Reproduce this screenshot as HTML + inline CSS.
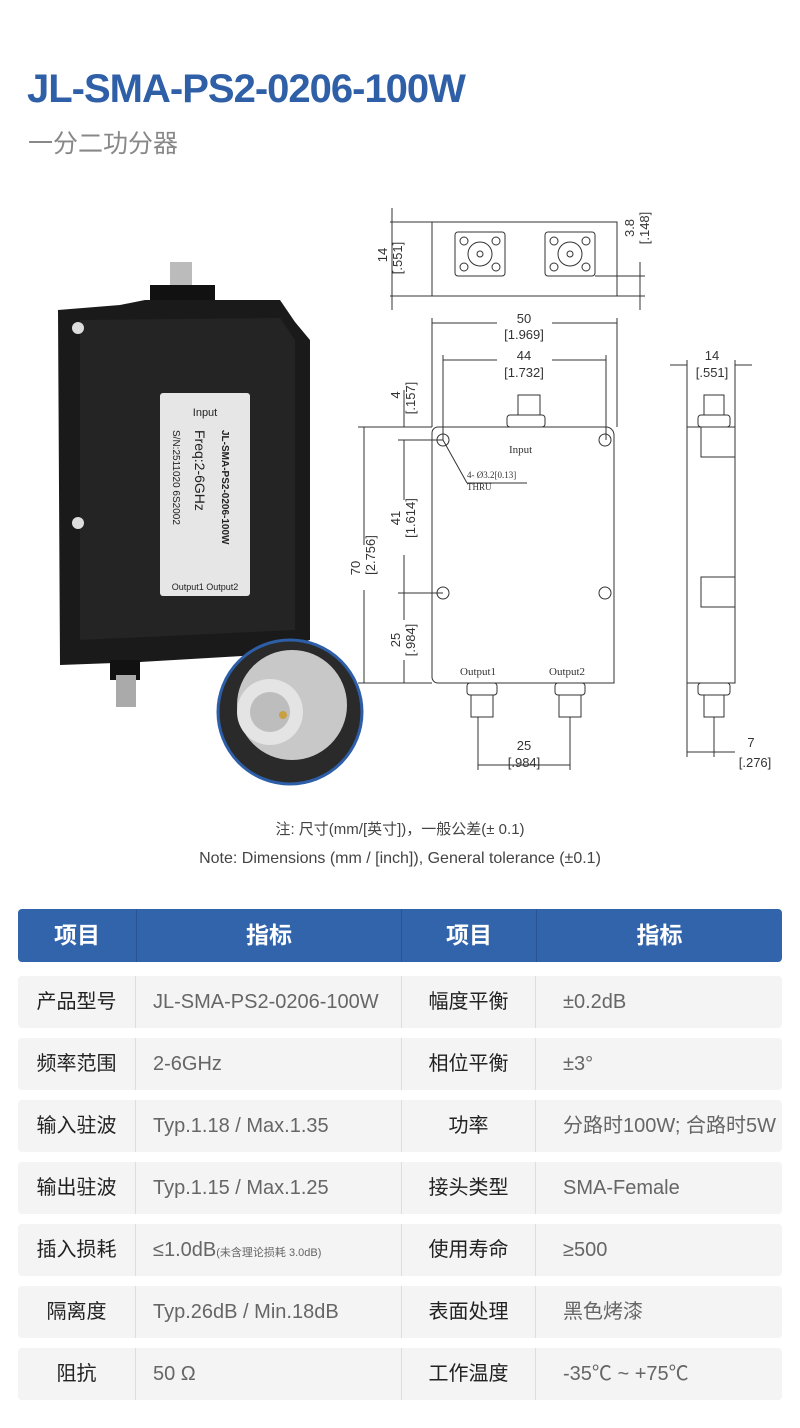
<!DOCTYPE html>
<html><head><meta charset="utf-8"><style>
*{margin:0;padding:0;box-sizing:border-box}
body{width:800px;height:1428px;background:#fff;position:relative;overflow:hidden;font-family:"Liberation Sans","Noto Sans CJK SC",sans-serif}
.abs{position:absolute}
h1{position:absolute;left:27px;top:67px;font-size:40px;font-weight:bold;color:#2f5fa6;letter-spacing:-1px}
.sub{left:28px;top:124px;font-size:25px;color:#888}
.note{width:800px;text-align:center;color:#444;font-size:15px}
.row{position:absolute;left:18px;width:764px;height:52px;background:#f4f4f4;border-radius:4px;font-size:20px;color:#666}
.row div{position:absolute;top:0;height:52px;line-height:52px}
.c1{left:0;width:118px;text-align:center;color:#222;border-right:1px solid #ddd}
.c2{left:135px;width:248px}
.c3{left:383px;width:135px;text-align:center;color:#222;border-left:1px solid #ddd;border-right:1px solid #ddd}
.c4{left:545px}
.hd{position:absolute;left:18px;top:909px;width:764px;height:53px;background:#3264ab;border-radius:4px;color:#fff;font-size:23px;font-weight:bold}
.hd div{position:absolute;top:0;height:53px;line-height:53px;text-align:center}
</style></head><body>
<h1>JL-SMA-PS2-0206-100W</h1>
<div class="abs sub">一分二功分器</div>

<svg class="abs" style="left:0;top:0" width="800" height="800">
<rect x="170" y="262" width="22" height="30" fill="#bbb"/>
<rect x="150" y="285" width="65" height="22" fill="#111"/>
<path d="M58 310 L120 305 L145 300 L280 300 L295 322 L310 340 L310 640 L260 655 L140 662 L60 665 Z" fill="#1a1a1a"/>
<path d="M80 320 L280 318 L295 340 L295 630 L80 640 Z" fill="#242424"/>
<circle cx="78" cy="328" r="6" fill="#ddd"/><circle cx="78" cy="523" r="6" fill="#ddd"/>
<rect x="110" y="660" width="30" height="20" fill="#111"/>
<rect x="116" y="675" width="20" height="32" fill="#aaa"/>
<rect x="160" y="393" width="90" height="203" fill="#e6e6e6" rx="3"/>
<text x="205" y="416" font-size="11" text-anchor="middle" fill="#222">Input</text>
<text font-size="10" fill="#222" transform="translate(222,430) rotate(90)" font-weight="bold">JL-SMA-PS2-0206-100W</text>
<text font-size="14" fill="#222" transform="translate(195,430) rotate(90)">Freq:2-6GHz</text>
<text font-size="10" fill="#222" transform="translate(173,430) rotate(90)">S/N:2511020 6S2002</text>
<text x="205" y="590" font-size="9" text-anchor="middle" fill="#222">Output1 Output2</text>
<circle cx="290" cy="712" r="72" fill="#2a2a2a" stroke="#2d5ea8" stroke-width="3"/>
<circle cx="292" cy="705" r="55" fill="#c8c8c8"/>
<circle cx="270" cy="712" r="33" fill="#e4e4e4"/>
<circle cx="270" cy="712" r="20" fill="#bdbdbd"/>
<circle cx="283" cy="715" r="4" fill="#c9a040"/>

<g stroke="#333" fill="none" stroke-width="1">
<rect x="432" y="222" width="185" height="74"/>
<rect x="455" y="232" width="50" height="44" rx="3"/><circle cx="480" cy="254" r="12"/><circle cx="480" cy="254" r="3"/>
<rect x="545" y="232" width="50" height="44" rx="3"/><circle cx="570" cy="254" r="12"/><circle cx="570" cy="254" r="3"/>
<circle cx="464" cy="241" r="4"/><circle cx="496" cy="241" r="4"/><circle cx="464" cy="267" r="4"/><circle cx="496" cy="267" r="4"/>
<circle cx="554" cy="241" r="4"/><circle cx="586" cy="241" r="4"/><circle cx="554" cy="267" r="4"/><circle cx="586" cy="267" r="4"/>
<line x1="390" y1="222" x2="432" y2="222"/><line x1="390" y1="296" x2="432" y2="296"/><line x1="392" y1="208" x2="392" y2="310"/>
<line x1="617" y1="296" x2="645" y2="296"/><line x1="595" y1="276" x2="645" y2="276"/><line x1="640" y1="262" x2="640" y2="310"/>
<path d="M438 427 H606 a8 8 0 0 1 8 8 V683 H438 a6 6 0 0 1 -6 -6 V433 a6 6 0 0 1 6 -6Z"/>
<circle cx="443" cy="440" r="6"/><circle cx="605" cy="440" r="6"/><circle cx="443" cy="593" r="6"/><circle cx="605" cy="593" r="6"/>
<rect x="518" y="395" width="22" height="20"/><rect x="507" y="415" width="38" height="12" rx="3"/>
<rect x="467" y="683" width="30" height="12" rx="3"/><rect x="471" y="695" width="22" height="22"/>
<rect x="555" y="683" width="30" height="12" rx="3"/><rect x="559" y="695" width="22" height="22"/>
<line x1="432" y1="318" x2="432" y2="427"/><line x1="617" y1="318" x2="617" y2="427"/>
<line x1="432" y1="323" x2="497" y2="323"/><line x1="552" y1="323" x2="617" y2="323"/>
<line x1="443" y1="355" x2="443" y2="440"/><line x1="606" y1="355" x2="606" y2="440"/>
<line x1="443" y1="360" x2="497" y2="360"/><line x1="552" y1="360" x2="606" y2="360"/>
<line x1="358" y1="427" x2="432" y2="427"/><line x1="358" y1="683" x2="432" y2="683"/>
<line x1="364" y1="427" x2="364" y2="545"/><line x1="364" y1="590" x2="364" y2="683"/>
<line x1="398" y1="440" x2="443" y2="440"/><line x1="398" y1="593" x2="443" y2="593"/>
<line x1="404" y1="390" x2="404" y2="427"/><line x1="404" y1="440" x2="404" y2="500"/><line x1="404" y1="555" x2="404" y2="620"/><line x1="404" y1="660" x2="404" y2="683"/>
<line x1="443" y1="440" x2="467" y2="483" /><line x1="467" y1="483" x2="527" y2="483"/>
<line x1="478" y1="717" x2="478" y2="770"/><line x1="570" y1="717" x2="570" y2="770"/><line x1="478" y1="765" x2="570" y2="765"/>
<rect x="687" y="427" width="48" height="256"/>
<rect x="701" y="427" width="34" height="30"/><rect x="701" y="577" width="34" height="30"/>
<rect x="704" y="395" width="20" height="20"/><rect x="698" y="415" width="32" height="12" rx="3"/>
<rect x="698" y="683" width="32" height="12" rx="3"/><rect x="704" y="695" width="20" height="22"/>
<line x1="687" y1="360" x2="687" y2="427"/><line x1="735" y1="360" x2="735" y2="427"/>
<line x1="670" y1="365" x2="687" y2="365"/><line x1="735" y1="365" x2="752" y2="365"/>
<line x1="687" y1="683" x2="687" y2="757"/><line x1="714" y1="717" x2="714" y2="757"/><line x1="687" y1="752" x2="735" y2="752"/>
</g>
<g fill="#333" font-size="13" text-anchor="middle">
<text transform="translate(387,255) rotate(-90)">14</text><text transform="translate(402,258) rotate(-90)">[.551]</text>
<text transform="translate(634,228) rotate(-90)">3.8</text><text transform="translate(649,228) rotate(-90)">[.148]</text>
<text x="524" y="323">50</text><text x="524" y="339">[1.969]</text>
<text x="524" y="360">44</text><text x="524" y="377">[1.732]</text>
<text transform="translate(400,395) rotate(-90)">4</text><text transform="translate(415,398) rotate(-90)">[.157]</text>
<text transform="translate(360,568) rotate(-90)">70</text><text transform="translate(375,555) rotate(-90)">[2.756]</text>
<text transform="translate(400,518) rotate(-90)">41</text><text transform="translate(415,518) rotate(-90)">[1.614]</text>
<text transform="translate(400,640) rotate(-90)">25</text><text transform="translate(415,640) rotate(-90)">[.984]</text>
<text x="524" y="750">25</text><text x="524" y="767">[.984]</text>
<text x="712" y="360">14</text><text x="712" y="377">[.551]</text>
<text x="751" y="747">7</text><text x="755" y="767">[.276]</text>
</g>
<g fill="#333" font-family="Liberation Serif" font-size="11">
<text x="509" y="453">Input</text>
<text x="467" y="478" font-size="9">4- Ø3.2[0.13]</text><text x="467" y="490" font-size="9">THRU</text>
<text x="460" y="675">Output1</text><text x="549" y="675">Output2</text>
</g>
</svg>

<div class="abs note" style="top:818px">注: 尺寸(mm/[英寸])，一般公差(± 0.1)</div>
<div class="abs note" style="top:850px;font-size:16px">Note: Dimensions (mm / [inch]), General tolerance (±0.1)</div>

<div class="hd"><div style="left:0;width:118px">项目</div><div style="left:118px;width:265px;border-left:1px solid #2a5595">指标</div><div style="left:383px;width:135px;border-left:1px solid #2a5595">项目</div><div style="left:518px;width:246px;border-left:1px solid #2a5595">指标</div></div>

<div class="row" style="top:976px"><div class="c1">产品型号</div><div class="c2">JL-SMA-PS2-0206-100W</div><div class="c3">幅度平衡</div><div class="c4">±0.2dB</div></div>
<div class="row" style="top:1038px"><div class="c1">频率范围</div><div class="c2">2-6GHz</div><div class="c3">相位平衡</div><div class="c4">±3°</div></div>
<div class="row" style="top:1100px"><div class="c1">输入驻波</div><div class="c2">Typ.1.18 / Max.1.35</div><div class="c3">功率</div><div class="c4" style="white-space:nowrap">分路时100W; 合路时5W</div></div>
<div class="row" style="top:1162px"><div class="c1">输出驻波</div><div class="c2">Typ.1.15 / Max.1.25</div><div class="c3">接头类型</div><div class="c4">SMA-Female</div></div>
<div class="row" style="top:1224px"><div class="c1">插入损耗</div><div class="c2">≤1.0dB<span style="font-size:11px">(未含理论损耗 3.0dB)</span></div><div class="c3">使用寿命</div><div class="c4">≥500</div></div>
<div class="row" style="top:1286px"><div class="c1">隔离度</div><div class="c2">Typ.26dB / Min.18dB</div><div class="c3">表面处理</div><div class="c4">黑色烤漆</div></div>
<div class="row" style="top:1348px"><div class="c1">阻抗</div><div class="c2">50 Ω</div><div class="c3">工作温度</div><div class="c4">-35℃ ~ +75℃</div></div>
</body></html>
